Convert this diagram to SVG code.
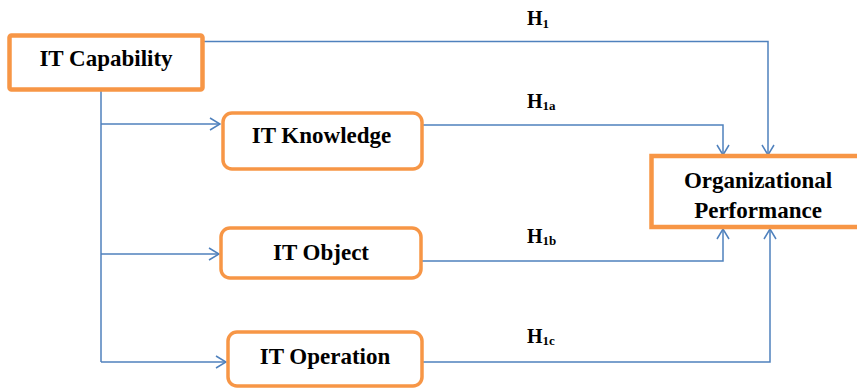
<svg xmlns="http://www.w3.org/2000/svg" width="857" height="388" viewBox="0 0 857 388">
<style>
.box{fill:#fff;stroke:#F79646;stroke-width:3.5}
.thick{stroke-width:4.5}
.lbl{font-family:"Liberation Serif","Times New Roman",serif;font-weight:bold;font-size:23px;fill:#000;text-anchor:middle}
.h{font-family:"Liberation Serif","Times New Roman",serif;font-weight:bold;font-size:20px;fill:#000}
.sub{font-size:13px}
.con{fill:none;stroke:#4F81BD;stroke-width:1.5}
</style>
<defs>
<marker id="ah" viewBox="0 0 12 14" refX="11" refY="7" markerWidth="12" markerHeight="14" markerUnits="userSpaceOnUse" orient="auto">
<path d="M1,1 L11,7 L1,13" fill="none" stroke="#4F81BD" stroke-width="1.5"/>
</marker>
</defs>
<rect width="857" height="388" fill="#fff"/>
<g id="connectors">
<path class="con" d="M203,41.5 H768 V155" marker-end="url(#ah)"/>
<path class="con" d="M422,125 H723 V155" marker-end="url(#ah)"/>
<path class="con" d="M421,261 H723 V229" marker-end="url(#ah)"/>
<path class="con" d="M422,362 H770 V229" marker-end="url(#ah)"/>
<path class="con" d="M101,91 V362"/>
<path class="con" d="M101,124 H220" marker-end="url(#ah)"/>
<path class="con" d="M101,254 H219" marker-end="url(#ah)"/>
<path class="con" d="M101,362 H226" marker-end="url(#ah)"/>
</g>
<g id="labels">
<text class="h" x="527" y="25">H<tspan class="sub" dy="3">1</tspan></text>
<text class="h" x="527" y="108">H<tspan class="sub" dy="2">1a</tspan></text>
<text class="h" x="527" y="243">H<tspan class="sub" dy="2">1b</tspan></text>
<text class="h" x="527" y="343">H<tspan class="sub" dy="2">1c</tspan></text>
</g>
<g id="it-capability">
<rect class="box thick" x="9.5" y="35.5" width="193" height="54" rx="2"/>
<text class="lbl" x="106" y="65.5">IT Capability</text>
</g>
<g id="it-knowledge">
<rect class="box" x="223" y="113" width="199" height="56" rx="9"/>
<text class="lbl" x="321.5" y="143">IT Knowledge</text>
</g>
<g id="it-object">
<rect class="box" x="221" y="228" width="200" height="50" rx="9"/>
<text class="lbl" x="321" y="259.5">IT Object</text>
</g>
<g id="it-operation">
<rect class="box" x="228" y="332" width="194" height="54" rx="9"/>
<text class="lbl" x="325" y="363.5">IT Operation</text>
</g>
<g id="organizational-performance">
<rect class="box thick" x="651.5" y="156" width="210" height="71"/>
<text class="lbl" x="758" y="188">Organizational</text>
<text class="lbl" x="758" y="217.5">Performance</text>
</g>
</svg>
